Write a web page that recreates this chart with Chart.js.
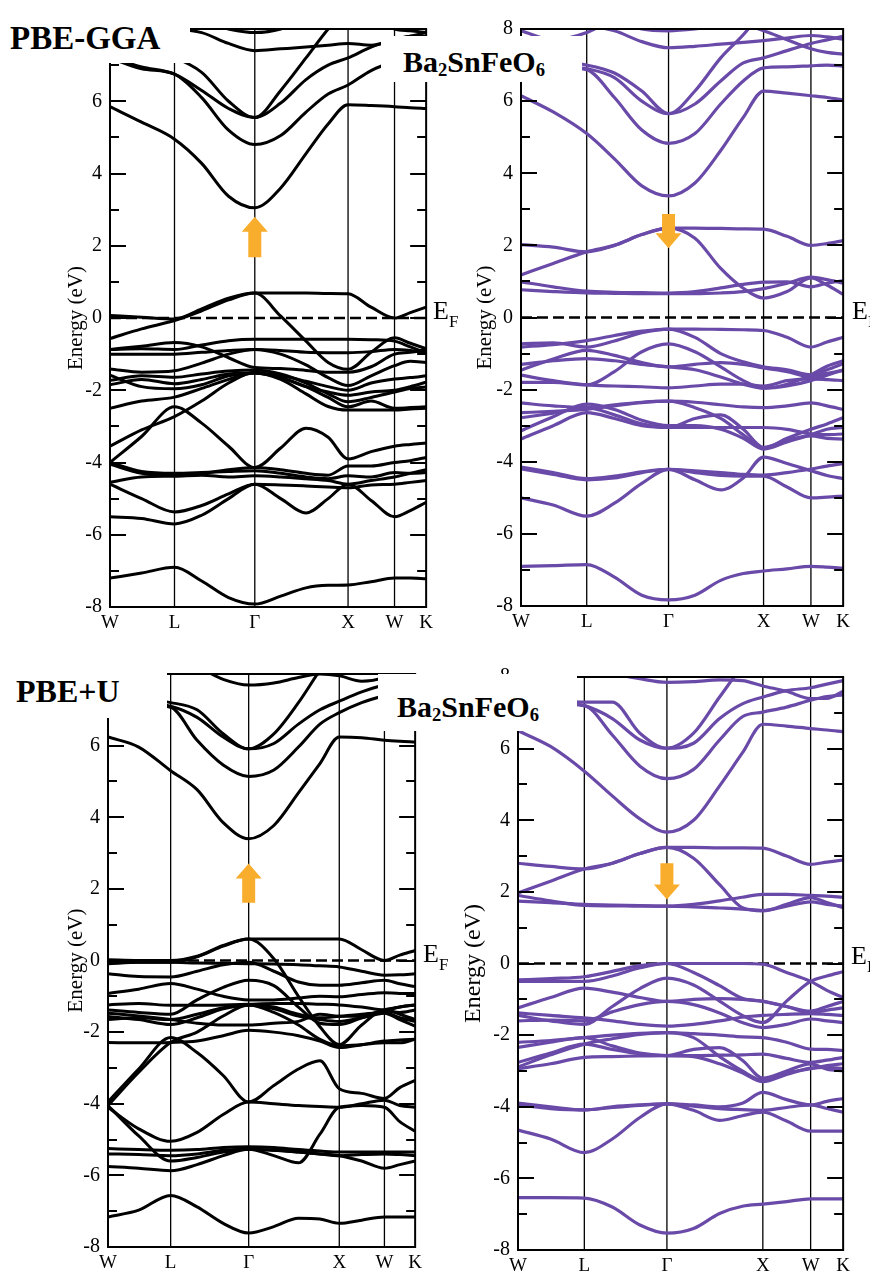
<!DOCTYPE html>
<html>
<head>
<meta charset="utf-8">
<script src="https://cdn.jsdelivr.net/npm/chart.js@4.4.0/dist/chart.umd.min.js"></script>
<style>
  html, body { margin:0; padding:0; background:#fff; }
  body { position:relative; width:870px; height:1273px; overflow:hidden; font-family:'Liberation Serif', serif; }
  canvas { position:absolute; }
  .box { position:absolute; background:#fff; }
  .lab { position:absolute; font-weight:bold; line-height:1; white-space:nowrap; color:#000; }
  .lab sub { font-size:0.62em; vertical-align:-0.2em; line-height:0; }
  .ef { position:absolute; font-size:26px; line-height:1; color:#000; white-space:nowrap; }
  .ef span { font-size:17px; position:relative; top:8px; }
</style>
</head>
<body>
<canvas id="ggaUp"></canvas>
<canvas id="ggaDn"></canvas>
<canvas id="uUp"></canvas>
<canvas id="uDn"></canvas>

<!-- white label boxes that sit over the plots, like in the figure -->
<div class="box" style="left:0;top:0;width:190px;height:63px"></div>
<div class="box" style="left:381px;top:36px;width:201px;height:46px"></div>
<div class="box" style="left:0;top:640px;width:167px;height:78px"></div>
<div class="box" style="left:378px;top:674px;width:199px;height:57px"></div>

<div class="lab" style="left:10px;top:22px;font-size:33px">PBE-GGA</div>
<div class="lab" style="left:403px;top:47px;font-size:30px">Ba<sub>2</sub>SnFeO<sub>6</sub></div>
<div class="lab" style="left:16px;top:675px;font-size:32px">PBE+U</div>
<div class="lab" style="left:397px;top:692px;font-size:30px">Ba<sub>2</sub>SnFeO<sub>6</sub></div>

<div class="ef" style="left:433px;top:298px">E<span>F</span></div>
<div class="ef" style="left:852px;top:298px">E<span>F</span></div>
<div class="ef" style="left:423px;top:941px">E<span>F</span></div>
<div class="ef" style="left:851px;top:943px">E<span>F</span></div>

<script>
// k-path: sample points used for every band, and the labelled points
var KGRID = [0, 0.1, 0.204, 0.29, 0.375, 0.458, 0.54, 0.62, 0.69, 0.753, 0.826, 0.9, 0.95, 1.0];
var K_TICKS = [0, 0.204, 0.458, 0.753, 0.9, 1.0];
var K_LABELS = ['W', 'L', 'Γ', 'X', 'W', 'K'];
var Y_TICKS = [-8, -6, -4, -2, 0, 2, 4, 6, 8];
var Y_MINOR = [-7, -5, -3, -1, 1, 3, 5, 7];

// PBE-GGA, spin up (black)
var ggaUpBands = [
  [5.85,5.42,4.95,4.28,3.37,3.05,3.6,4.55,5.37,5.9,5.88,5.85,5.82,5.8],
  [7.2,6.9,6.75,6.1,5.2,4.8,5.05,5.7,6.2,6.45,6.85,7.1,7.2,7.3],
  [7.2,6.95,6.75,6.3,5.8,5.55,5.95,6.6,7.0,7.2,7.5,7.7,7.8,7.9],
  [7.6,7.4,7.2,6.8,6.0,5.55,6.3,7.2,8.0,8.6,9,9,9,9],
  [8.2,8.1,8.0,7.9,7.6,7.4,7.45,7.5,7.55,7.6,7.55,7.7,7.8,7.8],
  [8.6,8.5,8.4,8.2,8.0,7.9,8.0,8.3,8.5,8.6,8.4,8.0,7.95,7.9],
  [0.07,0.02,-0.03,0.25,0.55,0.69,0.69,0.69,0.68,0.67,0.3,0.0,0.15,0.3],
  [-0.57,-0.3,-0.07,0.2,0.5,0.69,0.05,-0.64,-1.23,-1.42,-0.95,-0.55,-0.7,-0.85],
  [-0.87,-0.85,-0.87,-0.75,-0.63,-0.59,-0.59,-0.59,-0.59,-0.59,-0.6,-0.64,-0.8,-0.96],
  [-1.41,-1.5,-1.46,-1.25,-1.0,-0.87,-1.0,-1.3,-1.65,-1.87,-1.6,-1.32,-1.2,-1.23],
  [-1.0,-1.0,-1.0,-0.95,-0.9,-0.87,-0.9,-0.95,-0.96,-0.96,-0.93,-0.87,-0.9,-0.96],
  [-0.87,-0.78,-0.68,-0.8,-1.1,-1.37,-1.4,-1.45,-1.5,-1.5,-1.35,-1.0,-0.95,-0.87],
  [-1.73,-1.6,-1.64,-1.55,-1.47,-1.44,-1.55,-1.8,-2.1,-2.32,-2.2,-2.05,-1.95,-1.91],
  [-1.85,-1.7,-1.82,-1.7,-1.55,-1.52,-1.65,-1.9,-2.2,-2.46,-2.3,-2.5,-2.48,-2.46],
  [-1.58,-1.9,-1.96,-1.85,-1.6,-1.52,-1.6,-1.75,-1.9,-2.0,-1.8,-1.69,-1.65,-1.6],
  [-2.5,-2.3,-2.19,-1.95,-1.7,-1.52,-1.7,-2.1,-2.45,-2.55,-2.55,-2.55,-2.52,-2.5],
  [-3.55,-3.1,-2.73,-2.3,-1.8,-1.5,-1.65,-1.9,-2.05,-2.14,-2.05,-2.0,-1.9,-1.78],
  [-4.0,-3.28,-2.46,-2.91,-3.55,-4.14,-3.6,-3.05,-3.3,-3.9,-3.7,-3.55,-3.5,-3.46],
  [-4.0,-4.25,-4.3,-4.28,-4.25,-4.23,-4.3,-4.4,-4.45,-4.37,-4.4,-4.28,-4.3,-4.28],
  [-4.05,-4.3,-4.35,-4.3,-4.2,-4.14,-4.2,-4.3,-4.35,-4.1,-4.1,-4.0,-3.95,-3.86],
  [-4.55,-4.4,-4.38,-4.35,-4.4,-4.37,-4.4,-4.45,-4.5,-4.6,-4.5,-4.4,-4.3,-4.2],
  [-5.5,-5.55,-5.7,-5.46,-5.0,-4.6,-5.0,-5.4,-5.0,-4.6,-5.05,-5.5,-5.33,-5.1],
  [-4.6,-5.0,-5.37,-5.19,-4.87,-4.6,-4.62,-4.65,-4.68,-4.7,-4.62,-4.6,-4.55,-4.5],
  [-7.2,-7.06,-6.9,-7.28,-7.74,-7.92,-7.7,-7.47,-7.4,-7.39,-7.3,-7.2,-7.2,-7.22]
];

// PBE-GGA, spin down (purple)
var ggaDnBands = [
  [6.15,5.7,5.1,4.4,3.65,3.37,3.73,4.63,5.55,6.28,6.22,6.15,6.1,6.03],
  [7.0,6.95,6.87,6.1,5.2,4.83,5.1,5.92,6.56,6.92,6.95,6.98,7.0,6.97],
  [7.1,7.0,6.9,6.65,6.0,5.65,5.92,6.56,7.06,7.2,7.4,7.6,7.7,7.8],
  [7.2,7.1,7.0,6.78,6.28,5.65,6.28,7.2,7.84,8.5,9,9,9,9],
  [8.3,8.2,8.1,7.95,7.65,7.48,7.52,7.58,7.63,7.68,7.75,7.82,7.78,7.72],
  [7.95,7.7,7.9,8.3,8.6,8.7,8.6,8.5,8.4,8.3,8.2,8.1,8.2,8.3],
  [8.5,8.5,8.4,8.3,8.0,7.95,8.0,8.1,8.1,7.95,7.7,7.45,7.35,7.3],
  [2.02,1.95,1.82,2.0,2.3,2.48,2.48,2.47,2.46,2.45,2.25,2.0,2.05,2.13],
  [1.18,1.5,1.82,2.0,2.3,2.48,2.2,1.36,0.81,0.54,0.72,1.1,0.9,0.64],
  [0.99,0.85,0.73,0.7,0.69,0.68,0.72,0.82,0.92,0.98,0.99,0.85,0.95,1.02],
  [0.77,0.72,0.68,0.67,0.66,0.66,0.66,0.68,0.72,0.8,0.95,1.12,1.05,0.95],
  [-0.82,-0.75,-0.64,-0.5,-0.38,-0.32,-0.32,-0.33,-0.34,-0.36,-0.55,-0.82,-0.68,-0.55],
  [-0.73,-0.7,-0.82,-0.65,-0.42,-0.32,-0.55,-1.0,-1.23,-1.37,-1.45,-1.59,-1.45,-1.28],
  [-1.8,-1.8,-1.87,-1.5,-0.95,-0.73,-0.95,-1.37,-1.75,-1.96,-1.85,-1.59,-1.35,-1.2],
  [-1.3,-1.2,-1.14,-1.2,-1.3,-1.37,-1.45,-1.65,-1.85,-1.96,-1.9,-1.75,-1.6,-1.46],
  [-1.46,-1.15,-0.91,-1.05,-1.25,-1.37,-1.3,-1.25,-1.3,-1.4,-1.5,-1.65,-1.55,-1.46],
  [-1.6,-1.75,-1.87,-1.9,-1.92,-1.95,-1.9,-1.85,-1.85,-1.9,-1.75,-1.7,-1.72,-1.75],
  [-2.37,-2.45,-2.5,-2.42,-2.35,-2.32,-2.35,-2.42,-2.48,-2.5,-2.45,-2.37,-2.45,-2.55],
  [-2.64,-2.6,-2.55,-2.45,-2.36,-2.32,-2.5,-2.8,-3.25,-3.62,-3.35,-3.1,-2.95,-2.78],
  [-2.78,-2.65,-2.5,-2.7,-2.95,-3.05,-3.05,-3.05,-3.05,-3.05,-3.1,-3.23,-3.25,-3.23],
  [-3.37,-3.0,-2.64,-2.8,-3.0,-3.05,-2.8,-2.7,-3.1,-3.6,-3.4,-3.28,-3.35,-3.37],
  [-3.14,-2.75,-2.4,-2.55,-2.85,-3.0,-3.0,-3.1,-3.35,-3.65,-3.45,-3.25,-3.1,-3.05],
  [-4.15,-4.3,-4.47,-4.4,-4.28,-4.21,-4.25,-4.3,-4.35,-4.37,-4.3,-4.2,-4.12,-4.05],
  [-4.2,-4.35,-4.5,-4.45,-4.3,-4.21,-4.5,-4.78,-4.45,-3.87,-4.05,-4.25,-4.38,-4.47],
  [-5.0,-5.2,-5.51,-5.15,-4.6,-4.21,-4.3,-4.38,-4.4,-4.4,-4.7,-5.0,-4.98,-4.95],
  [-6.9,-6.88,-6.85,-7.2,-7.7,-7.83,-7.7,-7.29,-7.1,-7.03,-6.97,-6.9,-6.92,-6.95]
];

// PBE+U, spin up (black)
var uUpBands = [
  [6.24,5.96,5.3,4.77,3.85,3.4,3.77,4.68,5.5,6.24,6.22,6.15,6.12,6.1],
  [7.3,7.15,7.07,6.15,5.46,5.14,5.32,5.96,6.6,6.92,7.2,7.4,7.5,7.6],
  [7.4,7.2,7.1,6.79,6.24,5.91,6.06,6.6,7.0,7.24,7.5,7.7,7.8,7.9],
  [7.4,7.3,7.2,7.0,6.33,5.91,6.33,7.2,8.1,8.8,9,9,9,9],
  [8.6,8.5,8.4,8.2,7.85,7.69,7.75,7.9,8.0,7.95,7.8,7.9,8.1,8.2],
  [0.02,0.0,0.0,0.12,0.42,0.6,0.6,0.6,0.6,0.6,0.3,0.0,0.15,0.28],
  [-0.05,-0.05,-0.05,0.1,0.4,0.6,0.05,-1.0,-1.85,-2.35,-1.8,-1.38,-1.5,-1.65],
  [-0.09,-0.05,-0.05,-0.07,-0.08,-0.09,-0.1,-0.12,-0.15,-0.18,-0.3,-0.41,-0.4,-0.37],
  [-0.37,-0.45,-0.46,-0.3,-0.12,-0.05,-0.3,-0.6,-0.69,-0.69,-0.62,-0.55,-0.65,-0.73],
  [-1.38,-1.45,-1.5,-1.1,-0.75,-0.55,-0.7,-1.3,-1.75,-1.79,-1.6,-1.38,-1.3,-1.24],
  [-1.65,-1.6,-1.65,-1.5,-1.32,-1.24,-1.45,-1.8,-2.2,-2.38,-2.35,-2.3,-2.3,-2.2],
  [-1.24,-1.2,-1.25,-1.25,-1.24,-1.22,-1.2,-1.2,-1.22,-1.24,-1.3,-1.38,-1.3,-1.24],
  [-4.05,-3.12,-2.29,-2.0,-1.55,-1.24,-1.3,-1.5,-1.6,-1.56,-1.5,-1.45,-1.6,-1.7],
  [-0.92,-0.8,-0.64,-0.8,-1.0,-1.1,-1.1,-1.05,-1.0,-1.01,-0.95,-0.9,-0.92,-0.92],
  [-1.56,-1.65,-1.79,-1.6,-1.35,-1.24,-1.35,-1.55,-1.65,-1.7,-1.6,-1.47,-1.65,-1.83],
  [-1.47,-1.55,-1.65,-1.75,-1.8,-1.8,-1.75,-1.7,-1.5,-1.56,-1.55,-1.4,-1.45,-1.38],
  [-2.29,-2.3,-2.29,-2.25,-2.1,-1.95,-2.0,-2.1,-2.25,-2.43,-2.35,-2.25,-2.22,-2.2],
  [-3.95,-3.03,-2.15,-2.57,-3.21,-3.95,-3.49,-3.03,-2.8,-3.58,-3.71,-3.85,-3.55,-3.35],
  [-4.1,-4.7,-5.05,-4.8,-4.3,-3.95,-4.0,-4.05,-4.08,-4.1,-4.0,-3.9,-4.05,-4.1],
  [-4.05,-4.9,-5.6,-5.5,-5.35,-5.27,-5.45,-5.65,-4.85,-4.1,-4.05,-4.1,-4.5,-4.77],
  [-5.25,-5.28,-5.3,-5.28,-5.22,-5.2,-5.22,-5.28,-5.32,-5.35,-5.35,-5.35,-5.35,-5.35],
  [-5.4,-5.42,-5.45,-5.4,-5.3,-5.27,-5.3,-5.35,-5.4,-5.45,-5.42,-5.4,-5.42,-5.45],
  [-5.75,-5.8,-5.87,-5.7,-5.45,-5.27,-5.3,-5.35,-5.4,-5.45,-5.6,-5.8,-5.7,-5.6],
  [-7.16,-6.97,-6.56,-6.88,-7.34,-7.61,-7.43,-7.2,-7.22,-7.34,-7.25,-7.16,-7.16,-7.16]
];

// PBE+U, spin down (purple)
var uDnBands = [
  [6.5,6.06,5.37,4.68,4.04,3.67,4.0,4.96,5.88,6.68,6.63,6.56,6.52,6.47],
  [7.3,7.25,7.2,6.38,5.51,5.16,5.42,6.24,6.89,7.02,7.16,7.35,7.45,7.5],
  [7.4,7.3,7.2,6.84,6.24,6.01,6.15,6.84,7.25,7.44,7.62,7.7,7.8,7.9],
  [7.4,7.35,7.3,7.3,6.43,6.01,6.43,7.44,8.3,8.9,9,9,9,9],
  [8.5,8.4,8.3,8.1,7.95,7.85,7.87,7.92,7.9,7.75,7.6,7.4,7.4,7.6],
  [2.8,2.71,2.64,2.8,3.07,3.24,3.24,3.23,3.23,3.22,3.0,2.77,2.83,2.89],
  [1.97,2.3,2.64,2.8,3.07,3.24,2.94,2.2,1.56,1.47,1.65,1.84,1.7,1.56],
  [1.74,1.7,1.65,1.63,1.62,1.6,1.65,1.75,1.85,1.93,1.93,1.9,1.88,1.85],
  [1.9,1.75,1.62,1.61,1.6,1.6,1.58,1.55,1.52,1.48,1.6,1.72,1.65,1.6],
  [-0.46,-0.42,-0.37,-0.22,-0.06,0.0,0.0,0.0,0.0,-0.02,-0.25,-0.5,-0.75,-0.95],
  [-0.5,-0.5,-0.5,-0.35,-0.12,0.0,-0.25,-0.62,-0.97,-1.05,-1.2,-1.33,-1.2,-1.06],
  [-1.45,-1.6,-1.7,-1.2,-0.7,-0.41,-0.6,-1.05,-1.45,-1.65,-1.05,-0.5,-0.35,-0.23],
  [-1.6,-1.58,-1.6,-1.35,-1.15,-1.06,-1.15,-1.38,-1.65,-1.79,-1.7,-1.55,-1.6,-1.65],
  [-1.24,-0.95,-0.69,-0.8,-0.95,-1.06,-1.0,-0.98,-1.0,-1.06,-1.2,-1.38,-1.3,-1.24],
  [-1.38,-1.45,-1.52,-1.6,-1.7,-1.75,-1.7,-1.6,-1.5,-1.45,-1.42,-1.4,-1.42,-1.45],
  [-2.2,-2.15,-2.07,-2.0,-1.95,-1.93,-1.96,-2.0,-2.05,-2.07,-2.2,-2.39,-2.4,-2.43],
  [-2.89,-2.55,-2.25,-2.1,-1.98,-1.93,-2.07,-2.6,-3.0,-3.26,-3.05,-2.94,-2.85,-2.8],
  [-2.34,-2.2,-2.07,-2.3,-2.5,-2.57,-2.57,-2.56,-2.55,-2.53,-2.65,-2.76,-2.7,-2.62],
  [-2.76,-2.5,-2.25,-2.4,-2.52,-2.57,-2.4,-2.35,-2.7,-3.2,-3.0,-2.8,-2.95,-3.0],
  [-2.94,-2.8,-2.62,-2.6,-2.58,-2.57,-2.6,-2.8,-3.05,-3.3,-3.1,-2.92,-2.9,-2.94],
  [-3.95,-4.05,-4.09,-4.0,-3.95,-3.92,-3.98,-4.05,-4.08,-4.1,-4.02,-3.95,-4.05,-4.15],
  [-3.9,-4.0,-4.09,-4.02,-3.96,-3.92,-4.1,-4.38,-4.25,-4.15,-4.4,-4.68,-4.68,-4.68],
  [-4.65,-4.9,-5.28,-4.9,-4.3,-3.92,-3.95,-4.0,-3.9,-3.6,-3.8,-3.95,-3.85,-3.77],
  [-6.54,-6.54,-6.55,-6.8,-7.3,-7.53,-7.4,-6.98,-6.78,-6.72,-6.65,-6.57,-6.57,-6.57]
];

// orange arrows at Gamma: [tail energy, tip energy]
var ggaUpArrow = [1.68, 2.8];
var ggaDnArrow = [2.87, 1.92];
var uUpArrow = [1.61, 2.71];
var uDnArrow = [2.8, 1.79];

Chart.defaults.font.family = "'Liberation Serif', serif";
Chart.defaults.color = '#000';

// frame, inward ticks, k-point lines, Fermi level and the arrow
var bandDecor = {
  id: 'bandDecor',
  beforeDatasetsDraw: function(chart) {
    var ctx = chart.ctx, a = chart.chartArea, xs = chart.scales.x, ys = chart.scales.y;
    ctx.save();
    ctx.strokeStyle = '#000';
    ctx.lineWidth = 1.3;
    K_TICKS.slice(1, -1).forEach(function(k) {
      var px = xs.getPixelForValue(k);
      ctx.beginPath(); ctx.moveTo(px, a.top); ctx.lineTo(px, a.bottom); ctx.stroke();
    });
    var y0 = ys.getPixelForValue(0);
    ctx.setLineDash([11, 5]);
    ctx.lineWidth = 2.6;
    ctx.beginPath(); ctx.moveTo(a.left, y0); ctx.lineTo(a.right, y0); ctx.stroke();
    ctx.restore();
  },
  afterDatasetsDraw: function(chart, args, opts) {
    var ctx = chart.ctx, a = chart.chartArea, xs = chart.scales.x, ys = chart.scales.y;
    ctx.save();
    ctx.setLineDash([]);
    ctx.strokeStyle = '#000';
    ctx.lineWidth = 2;
    ctx.strokeRect(a.left, a.top, a.right - a.left, a.bottom - a.top);
    // tick marks pointing into the plot, both sides
    ctx.fillStyle = '#000';
    Y_TICKS.concat(Y_MINOR).forEach(function(v) {
      var py = Math.round(ys.getPixelForValue(v));
      var len = Y_TICKS.indexOf(v) >= 0 ? 16 : 9;
      ctx.fillRect(a.left, py - 1, len, 2);
      ctx.fillRect(a.right - len, py - 1, len, 2);
    });
    if (opts.arrow) {
      var cx = xs.getPixelForValue(K_TICKS[2]);
      var yTail = ys.getPixelForValue(opts.arrow[0]);
      var yTip = ys.getPixelForValue(opts.arrow[1]);
      var dir = yTip < yTail ? -1 : 1;
      var hh = 15, hw = 13, sw = 6.5;
      var yNeck = yTip - dir * hh;
      ctx.fillStyle = '#f9ad2d';
      ctx.beginPath();
      ctx.moveTo(cx - sw, yTail); ctx.lineTo(cx - sw, yNeck); ctx.lineTo(cx - hw, yNeck);
      ctx.lineTo(cx, yTip);
      ctx.lineTo(cx + hw, yNeck); ctx.lineTo(cx + sw, yNeck); ctx.lineTo(cx + sw, yTail);
      ctx.closePath();
      ctx.fill();
    }
    ctx.restore();
  }
};

function makePanel(id, area, bands, color, lw, arrow, titleSize, titlePad) {
  var padL = 72, padT = 12, padR = 8, padB = 30;
  var cv = document.getElementById(id);
  cv.width = area.r - area.l + padL + padR;
  cv.height = area.b - area.t + padT + padB;
  cv.style.left = (area.l - padL) + 'px';
  cv.style.top = (area.t - padT) + 'px';

  var datasets = bands.map(function(b) {
    return {
      data: b.map(function(e, i) { return {x: KGRID[i], y: e}; }),
      borderColor: color,
      borderWidth: lw,
      pointRadius: 0,
      fill: false,
      clip: 0,
      cubicInterpolationMode: 'monotone'
    };
  });

  return new Chart(cv, {
    type: 'line',
    data: { datasets: datasets },
    options: {
      responsive: false,
      animation: false,
      devicePixelRatio: 1,
      layout: { padding: { top: padT, right: padR, left: 0, bottom: 0 } },
      plugins: {
        legend: { display: false },
        tooltip: { enabled: false },
        bandDecor: { arrow: arrow }
      },
      scales: {
        x: {
          type: 'linear', min: 0, max: 1,
          grid: { display: false, drawTicks: false },
          border: { display: false },
          afterBuildTicks: function(s) { s.ticks = K_TICKS.map(function(v) { return {value: v}; }); },
          afterFit: function(s) { s.height = padB; },
          ticks: {
            autoSkip: false, maxRotation: 0, padding: 5,
            font: { size: 19 },
            callback: function(v, i) { return K_LABELS[i]; }
          }
        },
        y: {
          type: 'linear', min: -8, max: 8,
          grid: { display: false, drawTicks: false },
          border: { display: false },
          afterFit: function(s) { s.width = padL; },
          ticks: {
            stepSize: 1, autoSkip: false, padding: 8,
            font: { size: 20 },
            callback: function(v) { return Y_TICKS.indexOf(v) >= 0 ? String(v) : ''; }
          },
          title: {
            display: true, text: 'Energy (eV)',
            font: { size: titleSize },
            padding: { top: titlePad, bottom: 0 }
          }
        }
      }
    },
    plugins: [bandDecor]
  });
}

var PURPLE = '#6a4aa8';
makePanel('ggaUp', {l: 110, r: 430, t: 21, b: 607}, ggaUpBands, '#000', 3, ggaUpArrow, 21, 25.4);
makePanel('ggaDn', {l: 521, r: 847, t: 21, b: 606}, ggaDnBands, PURPLE, 3.2, ggaDnArrow, 21, 23.4);
makePanel('uUp', {l: 108, r: 419, t: 666, b: 1247}, uUpBands, '#000', 3, uUpArrow, 21, 27.4);
makePanel('uDn', {l: 518, r: 847, t: 669, b: 1250}, uDnBands, PURPLE, 3.2, uDnArrow, 24, 13.6);
</script>
</body>
</html>
